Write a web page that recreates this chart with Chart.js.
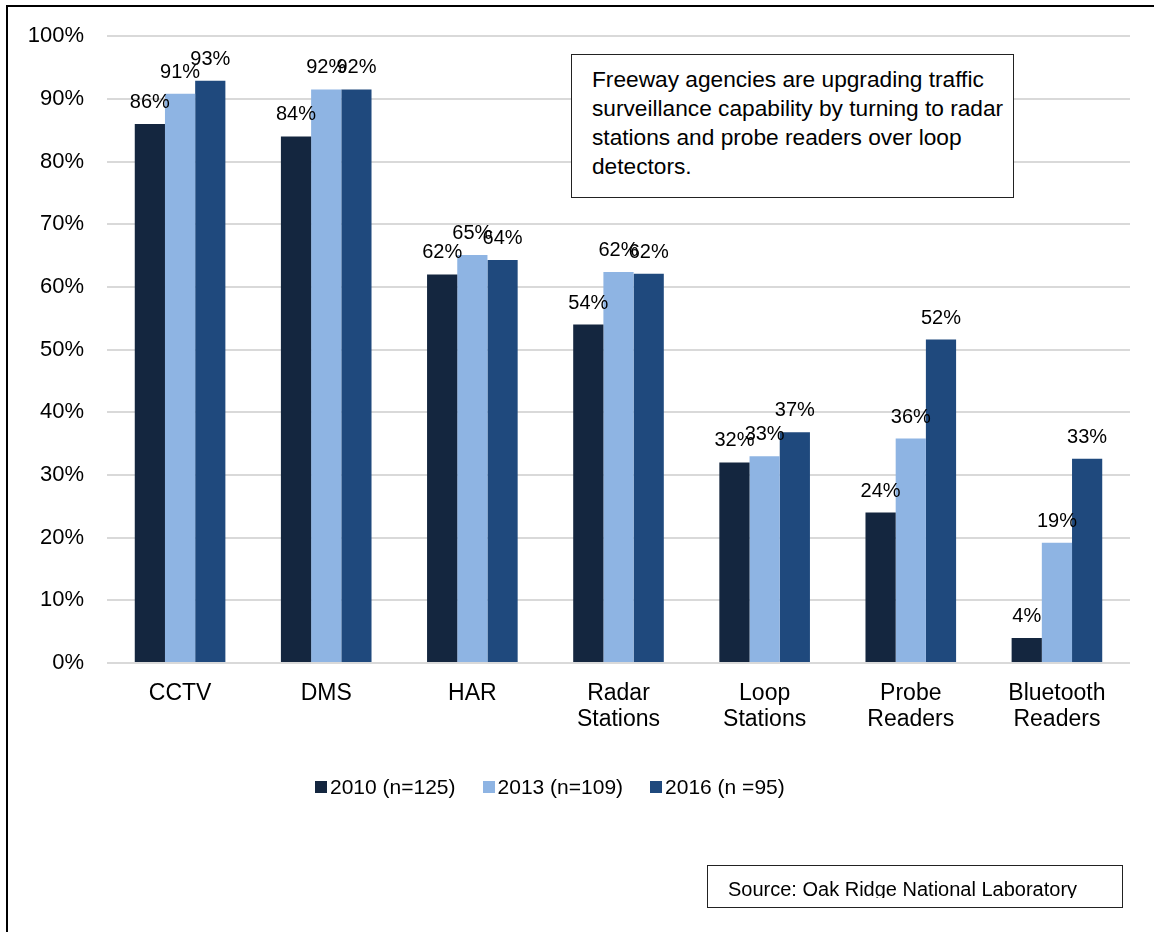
<!DOCTYPE html>
<html>
<head>
<meta charset="utf-8">
<script src="https://cdn.jsdelivr.net/npm/chart.js@4/dist/chart.umd.min.js"></script>
<style>
  body { margin: 0; background: #fff; font-family: "Liberation Sans", Arial, sans-serif; }
  #wrap { position: relative; width: 1154px; height: 932px; overflow: hidden; }
  #frame { position: absolute; left: 6px; top: 5px; width: 1200px; height: 1000px;
           border-left: 2px solid #000; border-top: 2px solid #000; }
  canvas { position: absolute; left: 0; top: 0; }
  #note { position: absolute; left: 571px; top: 54px; width: 443px; height: 144px; box-sizing: border-box;
          border: 1.5px solid #222; background: #fff; padding: 10px 0 0 20px;
          font-size: 22.7px; line-height: 29px; color: #000; white-space: nowrap; }
  #legend { position: absolute; left: 315px; top: 775px; display: flex; align-items: center;
            font-size: 21px; color: #000; }
  .item { display: flex; align-items: center; margin-right: 27px; }
  .swatch { width: 12px; height: 12px; margin-right: 3px; }
  #source { position: absolute; left: 707px; top: 865px; width: 416px; height: 43px; box-sizing: border-box;
            border: 1.5px solid #222; background: #fff; }
  #source div { position: absolute; left: 20px; top: 13px; height: 19px; overflow: hidden;
                font-size: 20px; line-height: 20px; white-space: nowrap; }
</style>
</head>
<body>
<div id="wrap">
  <canvas id="chart" width="1154" height="932"></canvas>
  <div id="frame"></div>
  <div id="note">Freeway agencies are upgrading traffic<br>surveillance capability by turning to radar<br>stations and probe readers over loop<br>detectors.</div>
  <div id="legend"></div>
  <div id="source"><div>Source: Oak Ridge National Laboratory</div></div>
</div>
<script>
const categories = ['CCTV', 'DMS', 'HAR', ['Radar', 'Stations'], ['Loop', 'Stations'], ['Probe', 'Readers'], ['Bluetooth', 'Readers']];
const seriesNames = ['2010 (n=125)', '2013 (n=109)', '2016 (n =95)'];
const values2010 = [86, 84, 62, 54, 32, 24, 4];
const values2013 = [90.8, 91.5, 65.1, 62.4, 33, 35.8, 19.2];
const values2016 = [92.9, 91.5, 64.3, 62.1, 36.8, 51.6, 32.6];
const colors = ['#14263f', '#8eb4e3', '#1f497d'];

const font = '"Liberation Sans", Arial, sans-serif';

// Value labels above every bar.
const barLabels = {
    id: 'barLabels',
    afterDatasetsDraw(chart) {
        const ctx = chart.ctx;
        ctx.save();
        ctx.font = '20px ' + font;
        ctx.fillStyle = '#000';
        ctx.textAlign = 'center';
        ctx.textBaseline = 'alphabetic';
        chart.data.datasets.forEach((ds, i) => {
            chart.getDatasetMeta(i).data.forEach((bar, j) => {
                ctx.fillText(Math.round(ds.data[j]) + '%', bar.x, bar.y - 16);
            });
        });
        ctx.restore();
    }
};

const allValues = [values2010, values2013, values2016];

new Chart(document.getElementById('chart'), {
    type: 'bar',
    data: {
        labels: categories,
        datasets: allValues.map((vals, i) => ({
            label: seriesNames[i],
            data: vals,
            backgroundColor: colors[i],
            borderWidth: 0,
            categoryPercentage: 0.62,
            barPercentage: 1.0
        }))
    },
    options: {
        responsive: false,
        animation: false,
        layout: { padding: { left: 0, right: 24, top: 35, bottom: 0 } },
        plugins: {
            legend: { display: false },
            tooltip: { enabled: false }
        },
        scales: {
            x: {
                grid: { display: false, drawTicks: false, tickLength: 0 },
                border: { display: false },
                ticks: { color: '#000', padding: 18, font: { family: font, size: 23, lineHeight: 1.13 } },
                afterFit(axis) { axis.height = 269; }
            },
            y: {
                min: 0,
                max: 100,
                grid: { color: '#d9d9d9', lineWidth: 2, drawTicks: false },
                border: { display: false },
                ticks: {
                    stepSize: 10,
                    color: '#000',
                    padding: 23,
                    font: { family: font, size: 22 },
                    callback: v => v + '%'
                },
                afterFit(axis) { axis.width = 107; }
            }
        }
    },
    plugins: [barLabels]
});

// Legend built from the series arrays.
const legend = document.getElementById('legend');
seriesNames.forEach((name, i) => {
    const item = document.createElement('div');
    item.className = 'item';
    item.innerHTML = '<span class="swatch" style="background:' + colors[i] + '"></span>' + name;
    legend.appendChild(item);
});
</script>
</body>
</html>
